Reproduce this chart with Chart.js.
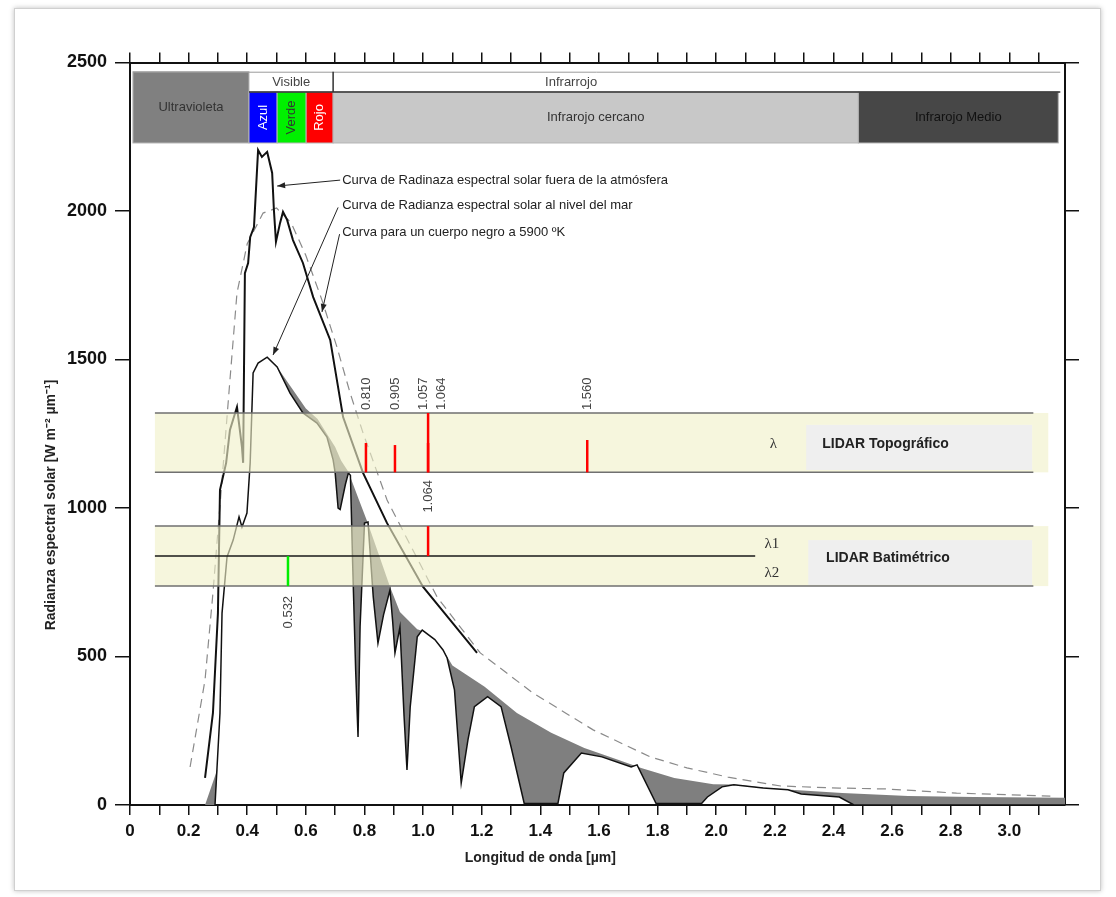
<!DOCTYPE html>
<html>
<head>
<meta charset="utf-8">
<script src="https://cdn.jsdelivr.net/npm/chart.js@4.4.1/dist/chart.umd.min.js"></script>
<style>
  body { margin: 0; background: #fff; }
  #frame {
    position: absolute; left: 14px; top: 8px; width: 1085px; height: 881px;
    border: 1px solid #d0d0d0; box-shadow: 0 0 5px rgba(0, 0, 0, 0.25); background: #fff;
  }
  #chart { position: absolute; left: 0; top: 0; }
</style>
</head>
<body>
<div id="frame"></div>
<canvas id="chart" width="1116" height="897"></canvas>
<script>
// axis ticks
const xTickValues = [0, 0.1, 0.2, 0.3, 0.4, 0.5, 0.6, 0.7, 0.8, 0.9, 1.0, 1.1, 1.2, 1.3, 1.4, 1.5,
  1.6, 1.7, 1.8, 1.9, 2.0, 2.1, 2.2, 2.3, 2.4, 2.5, 2.6, 2.7, 2.8, 2.9, 3.0, 3.1];
const yTickValues = [0, 500, 1000, 1500, 2000, 2500];

// curves [wavelength um, radiance]
const extraterrestrial = [[0.256, 91], [0.283, 310], [0.30, 646], [0.307, 1061], [0.317, 1104], [0.328, 1152],
  [0.341, 1263], [0.365, 1340], [0.382, 1205], [0.386, 1152], [0.392, 1791], [0.403, 1825], [0.41, 1912],
  [0.423, 1946], [0.437, 2205], [0.45, 2182], [0.468, 2199], [0.485, 2128], [0.491, 2003], [0.498, 1896],
  [0.512, 1960], [0.522, 1997], [0.536, 1970], [0.556, 1902], [0.59, 1825], [0.625, 1710], [0.683, 1566],
  [0.727, 1306], [0.795, 1118], [0.877, 949], [1.0, 734], [1.092, 623], [1.184, 512]];

const seaLevel = [[0.29, 0], [0.307, 310], [0.314, 646], [0.331, 835], [0.352, 892], [0.372, 970], [0.382, 936],
  [0.399, 983], [0.41, 1152], [0.42, 1455], [0.437, 1488], [0.468, 1508], [0.502, 1475], [0.546, 1387],
  [0.59, 1320], [0.638, 1286], [0.672, 1239], [0.693, 1162], [0.70, 1118], [0.71, 1000], [0.717, 995],
  [0.735, 1080], [0.745, 1118], [0.752, 1110], [0.76, 800], [0.77, 450], [0.778, 229], [0.785, 600],
  [0.80, 949], [0.812, 953], [0.83, 700], [0.846, 545], [0.865, 640], [0.887, 724], [0.896, 620],
  [0.904, 512], [0.921, 599], [0.935, 300], [0.945, 118], [0.956, 330], [0.98, 566], [0.997, 589],
  [1.04, 557], [1.068, 522], [1.082, 495], [1.107, 388], [1.13, 74], [1.153, 219], [1.175, 331],
  [1.22, 365], [1.266, 331], [1.3, 196], [1.345, 5], [1.46, 5], [1.48, 108], [1.54, 175], [1.61, 162],
  [1.71, 128], [1.73, 135], [1.795, 5], [1.95, 5], [1.97, 27], [2.02, 61], [2.06, 68], [2.16, 57],
  [2.245, 51], [2.29, 37], [2.42, 27], [2.47, 0], [3.19, 0]];

// upper edge of the absorption (grey) area
const absorptionTop = [[0.502, 1475], [0.60, 1335], [0.64, 1300], [0.70, 1205], [0.72, 1160], [0.745, 1122],
  [0.78, 1030], [0.809, 955], [0.85, 840], [0.887, 735], [0.921, 650], [0.98, 592], [1.0, 585], [1.04, 557],
  [1.068, 523], [1.1, 470], [1.21, 398], [1.32, 310], [1.437, 243], [1.55, 192], [1.665, 152], [1.744, 125],
  [1.857, 91], [1.99, 70], [2.06, 69], [2.2, 55], [2.43, 40], [2.655, 30], [2.88, 27], [3.19, 24]];

const uvAbsorption = [[0.256, 0], [0.29, 0], [0.298, 120], [0.256, 0]];

const blackBody = [[0.205, 128], [0.256, 421], [0.283, 714], [0.314, 1094], [0.341, 1431], [0.365, 1724],
  [0.40, 1890], [0.454, 1993], [0.50, 2010], [0.55, 1960], [0.60, 1850], [0.655, 1700], [0.706, 1542],
  [0.751, 1387], [0.795, 1253], [0.877, 1027], [1.048, 700], [1.195, 512], [1.375, 377], [1.58, 253],
  [1.775, 162], [1.90, 125], [2.04, 94], [2.22, 64], [2.42, 57], [2.58, 54], [2.82, 40], [3.14, 30]];

// spectrum regions (top strip)
const regionNames = ['Ultravioleta', 'Azul', 'Verde', 'Rojo', 'Infrarojo cercano', 'Infrarojo Medio'];
const regionFrom = [0.01, 0.406, 0.502, 0.601, 0.693, 2.485];
const regionTo = [0.406, 0.502, 0.601, 0.693, 2.485, 3.167];
const groupNames = ['Visible', 'Infrarrojo'];
const groupFrom = [0.406, 0.693];
const groupTo = [0.693, 3.174];
const groupLabelAt = [0.55, 1.505];

// LIDAR bands
const lidarNames = ['LIDAR Topográfico', 'LIDAR Batimétrico'];
const lidarLow = [1120, 737];
const lidarHigh = [1320, 939];
const bathySplit = 838;

const topoLabels = ['0.810', '0.905', '1.057', '1.064', '1.560'];
const topoLineX = [0.805, 0.904, 1.017, 1.017, 1.56];
const topoLineTop = [1219, 1212, 1320, 1219, 1229];
const topoLabelX = [0.805, 0.904, 1.0, 1.061, 1.56];

const bathyLabels = ['1.064', '0.532'];
const bathyLineX = [1.017, 0.539];
const bathyLineFrom = [838, 737];
const bathyLineTo = [939, 838];

// annotations
const noteTexts = ['Curva de Radinaza espectral solar fuera de la atmósfera',
  'Curva de Radianza espectral solar al nivel del mar',
  'Curva para un cuerpo negro a 5900 ºK'];
const noteY = [2104, 2020, 1929];
const noteFrom = [[0.717, 2104], [0.71, 2012], [0.715, 1922]];
const noteTo = [[0.502, 2084], [0.488, 1515], [0.655, 1660]];

const FONT = "'Liberation Sans', Arial, sans-serif";
const regionColors = ['#808080', '#0000ff', '#00f000', '#ff0000', '#c8c8c8', '#474747'];
const regionText = ['#333', '#fff', '#333', '#fff', '#333', '#111'];

function xLabel(v) {
  const t = Math.round(v * 10);
  if (t % 2) return '';
  return t === 0 ? '0' : (t / 10).toFixed(1);
}

function arrow(ctx, x1, y1, x2, y2) {
  ctx.beginPath();
  ctx.moveTo(x1, y1);
  ctx.lineTo(x2, y2);
  ctx.stroke();
  const a = Math.atan2(y2 - y1, x2 - x1);
  ctx.beginPath();
  ctx.moveTo(x2, y2);
  ctx.lineTo(x2 - 8 * Math.cos(a) + 3 * Math.sin(a), y2 - 8 * Math.sin(a) - 3 * Math.cos(a));
  ctx.lineTo(x2 - 8 * Math.cos(a) - 3 * Math.sin(a), y2 - 8 * Math.sin(a) + 3 * Math.cos(a));
  ctx.closePath();
  ctx.fill();
}

const overlay = {
  id: 'overlay',
  beforeDatasetsDraw(chart) {
    const ctx = chart.ctx;
    const X = v => chart.scales.x.getPixelForValue(v);
    const Y = v => chart.scales.y.getPixelForValue(v);
    const top = Y(2469), mid = Y(2401), bot = Y(2229);
    ctx.save();
    // region boxes
    for (let i = 0; i < regionNames.length; i++) {
      const x1 = X(regionFrom[i]), x2 = X(regionTo[i]);
      const y1 = i === 0 ? top : mid;
      ctx.fillStyle = regionColors[i];
      ctx.fillRect(x1, y1, x2 - x1, bot - y1);
      ctx.strokeStyle = '#b5b5b5';
      ctx.lineWidth = 1;
      ctx.strokeRect(x1, y1, x2 - x1, bot - y1);
      ctx.fillStyle = regionText[i];
      if (i >= 1 && i <= 3) {
        ctx.save();
        ctx.translate((x1 + x2) / 2, (mid + bot) / 2);
        ctx.rotate(-Math.PI / 2);
        ctx.font = '13px ' + FONT;
        ctx.textAlign = 'center';
        ctx.textBaseline = 'middle';
        ctx.fillText(regionNames[i], 0, 0);
        ctx.restore();
      } else {
        ctx.font = '13px ' + FONT;
        ctx.textAlign = 'center';
        ctx.textBaseline = 'middle';
        ctx.fillText(regionNames[i], (x1 + x2) / 2, (y1 + bot) / 2 + (i === 0 ? 0 : 0));
      }
    }
    // group headers
    ctx.strokeStyle = '#9a9a9a';
    ctx.lineWidth = 1;
    ctx.beginPath();
    ctx.moveTo(X(regionFrom[0]), top + 0.5);
    ctx.lineTo(X(groupTo[1]), top + 0.5);
    ctx.stroke();
    ctx.strokeStyle = '#333';
    ctx.lineWidth = 1.5;
    ctx.beginPath();
    ctx.moveTo(X(groupFrom[0]), mid);
    ctx.lineTo(X(groupTo[1]), mid);
    ctx.moveTo(X(groupTo[0]), top);
    ctx.lineTo(X(groupTo[0]), mid);
    ctx.stroke();
    ctx.fillStyle = '#444';
    ctx.font = '13px ' + FONT;
    ctx.textAlign = 'center';
    ctx.textBaseline = 'middle';
    for (let i = 0; i < groupNames.length; i++) {
      ctx.fillText(groupNames[i], X(groupLabelAt[i]), (top + mid) / 2 + 1);
    }
    ctx.restore();
  },
  afterDatasetsDraw(chart) {
    const ctx = chart.ctx;
    const X = v => chart.scales.x.getPixelForValue(v);
    const Y = v => chart.scales.y.getPixelForValue(v);
    const bandL = X(0.085), bandR = X(3.133), lineR = X(3.082);
    ctx.save();
    // cream bands
    for (let i = 0; i < lidarNames.length; i++) {
      const y1 = Y(lidarHigh[i]), y2 = Y(lidarLow[i]);
      ctx.fillStyle = 'rgba(240,240,200,0.62)';
      ctx.fillRect(bandL, y1, bandR - bandL, y2 - y1);
      ctx.strokeStyle = '#707070';
      ctx.lineWidth = 1.5;
      ctx.beginPath();
      ctx.moveTo(bandL, y1); ctx.lineTo(lineR, y1);
      ctx.moveTo(bandL, y2); ctx.lineTo(lineR, y2);
      ctx.stroke();
    }
    ctx.strokeStyle = '#1a1a1a';
    ctx.lineWidth = 1.5;
    ctx.beginPath();
    ctx.moveTo(bandL, Y(bathySplit));
    ctx.lineTo(X(2.133), Y(bathySplit));
    ctx.stroke();

    // label boxes
    const boxFrom = [2.307, 2.314], boxTo = [3.078, 3.078];
    const boxHigh = [1280, 892], boxLow = [1128, 741];
    const textX = [2.362, 2.375], textY = [1215, 832];
    for (let i = 0; i < lidarNames.length; i++) {
      ctx.fillStyle = '#efefef';
      ctx.fillRect(X(boxFrom[i]), Y(boxHigh[i]), X(boxTo[i]) - X(boxFrom[i]), Y(boxLow[i]) - Y(boxHigh[i]));
      ctx.fillStyle = '#222';
      ctx.font = 'bold 14px ' + FONT;
      ctx.textAlign = 'left';
      ctx.textBaseline = 'middle';
      ctx.fillText(lidarNames[i], X(textX[i]), Y(textY[i]));
    }
    ctx.fillStyle = '#333';
    ctx.font = '15px "Liberation Serif", "DejaVu Serif", serif';
    ctx.textAlign = 'center';
    ctx.fillText('λ', X(2.195), Y(1215));
    ctx.fillText('λ1', X(2.19), Y(879));
    ctx.fillText('λ2', X(2.19), Y(781));

    // laser lines
    ctx.lineWidth = 2.5;
    ctx.strokeStyle = '#ff0000';
    for (let i = 0; i < topoLabels.length; i++) {
      ctx.beginPath();
      ctx.moveTo(X(topoLineX[i]), Y(lidarLow[0]));
      ctx.lineTo(X(topoLineX[i]), Y(topoLineTop[i]));
      ctx.stroke();
    }
    const bathyColors = ['#ff0000', '#00ee00'];
    for (let i = 0; i < bathyLabels.length; i++) {
      ctx.strokeStyle = bathyColors[i];
      ctx.beginPath();
      ctx.moveTo(X(bathyLineX[i]), Y(bathyLineFrom[i]));
      ctx.lineTo(X(bathyLineX[i]), Y(bathyLineTo[i]));
      ctx.stroke();
    }
    ctx.fillStyle = '#444';
    ctx.font = '13px ' + FONT;
    ctx.textBaseline = 'middle';
    for (let i = 0; i < topoLabels.length; i++) {
      ctx.save();
      ctx.translate(X(topoLabelX[i]), Y(1330));
      ctx.rotate(-Math.PI / 2);
      ctx.textAlign = 'left';
      ctx.fillText(topoLabels[i], 0, 0);
      ctx.restore();
    }
    const bathyLabelTop = [1094, 704];
    for (let i = 0; i < bathyLabels.length; i++) {
      ctx.save();
      ctx.translate(X(bathyLineX[i]), Y(bathyLabelTop[i]));
      ctx.rotate(-Math.PI / 2);
      ctx.textAlign = 'right';
      ctx.fillText(bathyLabels[i], 0, 0);
      ctx.restore();
    }

    // curve annotations
    ctx.font = '13px ' + FONT;
    ctx.textAlign = 'left';
    ctx.fillStyle = '#222';
    ctx.strokeStyle = '#222';
    ctx.lineWidth = 1;
    for (let i = 0; i < noteTexts.length; i++) {
      ctx.fillText(noteTexts[i], X(0.724), Y(noteY[i]));
      arrow(ctx, X(noteFrom[i][0]), Y(noteFrom[i][1]), X(noteTo[i][0]), Y(noteTo[i][1]));
    }
    ctx.restore();
  },
  afterDraw(chart) {
    const ctx = chart.ctx;
    const a = chart.chartArea;
    ctx.save();
    ctx.fillStyle = '#222';
    ctx.font = 'bold 14px ' + FONT;
    ctx.textAlign = 'center';
    ctx.textBaseline = 'middle';
    ctx.translate(a.left - 79, chart.scales.y.getPixelForValue(1010));
    ctx.rotate(-Math.PI / 2);
    ctx.fillText('Radianza espectral solar [W m⁻² µm⁻¹]', 0, 0);
    ctx.restore();
    ctx.save();
    ctx.fillStyle = '#222';
    ctx.font = 'bold 14px ' + FONT;
    ctx.textAlign = 'center';
    ctx.textBaseline = 'alphabetic';
    ctx.fillText('Longitud de onda [µm]', chart.scales.x.getPixelForValue(1.4), a.bottom + 57);
    ctx.restore();
  }
};

function fixSize(w, h) {
  return function (scale) {
    if (w !== null) scale.width = w;
    if (h !== null) scale.height = h;
    scale.paddingLeft = scale.paddingRight = scale.paddingTop = scale.paddingBottom = 0;
  };
}
const setXTicks = scale => { scale.ticks = xTickValues.map(v => ({ value: v })); };
const setYTicks = scale => { scale.ticks = yTickValues.map(v => ({ value: v })); };

const pts = arr => arr.map(p => ({ x: p[0], y: p[1] }));

new Chart(document.getElementById('chart'), {
  type: 'line',
  data: {
    datasets: [
      {
        label: 'absorción',
        data: pts(absorptionTop),
        borderColor: 'rgba(0,0,0,0)',
        borderWidth: 0,
        backgroundColor: '#7f7f7f',
        fill: { target: 1, above: '#7f7f7f', below: 'rgba(0,0,0,0)' },
        order: 10,
      },
      {
        label: 'nivel del mar',
        data: pts(seaLevel),
        borderColor: '#111',
        borderWidth: 1.5,
        fill: false,
        order: 1,
      },
      {
        label: 'fuera de la atmósfera',
        data: pts(extraterrestrial),
        borderColor: '#111',
        borderWidth: 2,
        fill: false,
        order: 1,
      },
      {
        label: 'cuerpo negro 5900 K',
        data: pts(blackBody),
        borderColor: '#8a8a8a',
        borderWidth: 1.2,
        borderDash: [9, 6],
        fill: false,
        order: 2,
      },
      {
        label: 'absorción UV',
        data: pts(uvAbsorption),
        borderColor: 'rgba(0,0,0,0)',
        borderWidth: 0,
        backgroundColor: '#7f7f7f',
        fill: 'shape',
        order: 10,
      },
    ],
  },
  options: {
    responsive: false,
    animation: false,
    devicePixelRatio: 1,
    layout: { padding: { left: 40, right: 20, top: 40, bottom: 30 } },
    elements: { point: { radius: 0 }, line: { tension: 0 } },
    plugins: { legend: { display: false }, tooltip: { enabled: false } },
    scales: {
      x: {
        type: 'linear', position: 'bottom', min: 0, max: 3.19,
        afterBuildTicks: setXTicks,
        afterFit: fixSize(null, 62),
        grid: { drawOnChartArea: false, drawTicks: true, tickLength: 10, color: '#111', lineWidth: 1.5 },
        border: { display: true, color: '#111', width: 2 },
        ticks: {
          autoSkip: false, maxRotation: 0, minRotation: 0, padding: 6, color: '#111',
          font: { family: FONT, size: 17, weight: 'bold' },
          callback: v => xLabel(v),
        },
      },
      x2: {
        type: 'linear', position: 'top', min: 0, max: 3.19,
        afterBuildTicks: setXTicks,
        afterFit: fixSize(null, 22.5),
        grid: { drawOnChartArea: false, drawTicks: true, tickLength: 10, color: '#111', lineWidth: 1.5 },
        border: { display: true, color: '#111', width: 2 },
        ticks: { autoSkip: false, maxRotation: 0, callback: () => '' },
      },
      y: {
        type: 'linear', position: 'left', min: 0, max: 2500,
        afterBuildTicks: setYTicks,
        afterFit: fixSize(90, null),
        grid: { drawOnChartArea: false, drawTicks: true, tickLength: 15, color: '#111', lineWidth: 1.5 },
        border: { display: true, color: '#111', width: 2 },
        ticks: {
          padding: 8, color: '#111',
          font: { family: FONT, size: 18, weight: 'bold' },
          callback: v => String(v),
        },
      },
      y2: {
        type: 'linear', position: 'right', min: 0, max: 2500,
        afterBuildTicks: setYTicks,
        afterFit: fixSize(31, null),
        grid: { drawOnChartArea: false, drawTicks: true, tickLength: 14, color: '#111', lineWidth: 1.5 },
        border: { display: true, color: '#111', width: 2 },
        ticks: { callback: () => '' },
      },
    },
  },
  plugins: [overlay],
});
</script>
</body>
</html>
